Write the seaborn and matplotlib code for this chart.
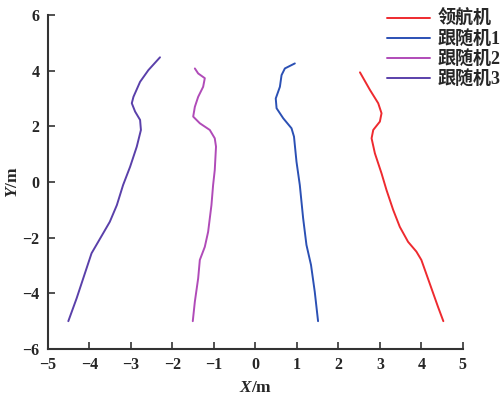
import numpy as np
import pandas as pd
import matplotlib
matplotlib.use("Agg")
import matplotlib.pyplot as plt
import seaborn as sns

labels = ["领航机", "跟随机1", "跟随机2", "跟随机3"]
colors = ["#ee2a2f", "#2b50b4", "#b04bb8", "#5a40aa"]

leader_x = [4.53, 4.40, 4.20, 4.00, 3.88, 3.68, 3.48, 3.32, 3.16, 3.04, 2.88, 2.80, 2.84, 3.00, 3.04, 2.96, 2.76, 2.52]
leader_y = [-5.00, -4.48, -3.64, -2.80, -2.50, -2.15, -1.61, -1.00, -0.29, 0.31, 1.03, 1.57, 1.87, 2.17, 2.47, 2.83, 3.31, 3.94]

f1_x = [1.51, 1.43, 1.34, 1.23, 1.15, 1.07, 0.99, 0.93, 0.87, 0.67, 0.51, 0.49, 0.59, 0.63, 0.71, 0.95]
f1_y = [-5.00, -3.94, -2.98, -2.26, -1.30, -0.11, 0.73, 1.63, 1.93, 2.29, 2.65, 3.00, 3.42, 3.84, 4.08, 4.26]

f2_x = [-1.51, -1.46, -1.38, -1.34, -1.22, -1.14, -1.06, -1.02, -0.98, -0.95, -0.98, -1.10, -1.34, -1.50, -1.46, -1.38, -1.26, -1.22, -1.38, -1.46]
f2_y = [-5.00, -4.30, -3.46, -2.80, -2.33, -1.79, -0.83, -0.11, 0.43, 1.27, 1.57, 1.87, 2.11, 2.35, 2.70, 3.06, 3.42, 3.73, 3.90, 4.08]

f3_x = [-4.51, -4.31, -4.11, -3.95, -3.79, -3.51, -3.34, -3.19, -3.02, -2.86, -2.76, -2.78, -2.90, -2.98, -2.94, -2.78, -2.58, -2.30]
f3_y = [-5.00, -4.18, -3.28, -2.56, -2.15, -1.43, -0.83, -0.11, 0.55, 1.27, 1.87, 2.23, 2.53, 2.83, 3.06, 3.60, 4.02, 4.48]

xticks = [-5, -4, -3, -2, -1, 0, 1, 2, 3, 4, 5]
yticks = [-6, -4, -2, 0, 2, 4, 6]

series = [(leader_x, leader_y), (f1_x, f1_y), (f2_x, f2_y), (f3_x, f3_y)]
frames = []
for lab, (xs, ys) in zip(labels, series):
    d = pd.DataFrame({"x": xs, "y": ys, "name": lab})
    frames.append(d)
df = pd.concat(frames, ignore_index=True)

sns.set_style("ticks")
plt.rcParams["font.family"] = ["Liberation Serif", "Noto Sans CJK SC"]
plt.rcParams["mathtext.fontset"] = "custom"
plt.rcParams["mathtext.it"] = "Liberation Serif:italic:bold"
plt.rcParams["mathtext.rm"] = "Liberation Serif:bold"

fig = plt.figure(figsize=(5.02, 3.99), dpi=100)
ax = fig.add_axes([0.0956, 0.1253, 0.922 - 0.0956, 0.9624 - 0.1253])

sns.lineplot(data=df, x="x", y="y", hue="name", units="name", estimator=None,
             sort=False, palette=dict(zip(labels, colors)), hue_order=labels,
             linewidth=1.4, ax=ax)

ax.set_xlim(-5, 5)
ax.set_ylim(-6, 6)
ax.set_xticks(xticks)
ax.set_yticks(yticks)
ax.set_xticklabels([("\u2212" + str(-t)) if t < 0 else str(t) for t in xticks],
                   fontweight="bold", fontsize=11.5)
ax.set_yticklabels([("\u2212" + str(-t)) if t < 0 else str(t) for t in yticks],
                   fontweight="bold", fontsize=11.5)
ax.tick_params(direction="in", length=5, width=1.2, color="#333333", pad=6)
for s in ["top", "right"]:
    ax.spines[s].set_visible(False)
for s in ["left", "bottom"]:
    ax.spines[s].set_color("#333333")
    ax.spines[s].set_linewidth(1.5)

ax.set_xlabel("$X$/m", fontsize=12.5, fontweight="bold", labelpad=5)
ax.set_ylabel("$Y$/m", fontsize=12.5, fontweight="bold", labelpad=1)

handles, labs = ax.get_legend_handles_labels()
ax.legend(handles, labs, loc="upper left", bbox_to_anchor=(387 / 502, 1 - 10 / 399),
          bbox_transform=fig.transFigure, frameon=False,
          prop={"family": ["Liberation Serif", "Noto Sans CJK SC"], "weight": "bold", "size": 13},
          handlelength=2.4, handletextpad=0.4, labelspacing=0.12, borderaxespad=0, borderpad=0)

fig.savefig("out.png", dpi=100)
